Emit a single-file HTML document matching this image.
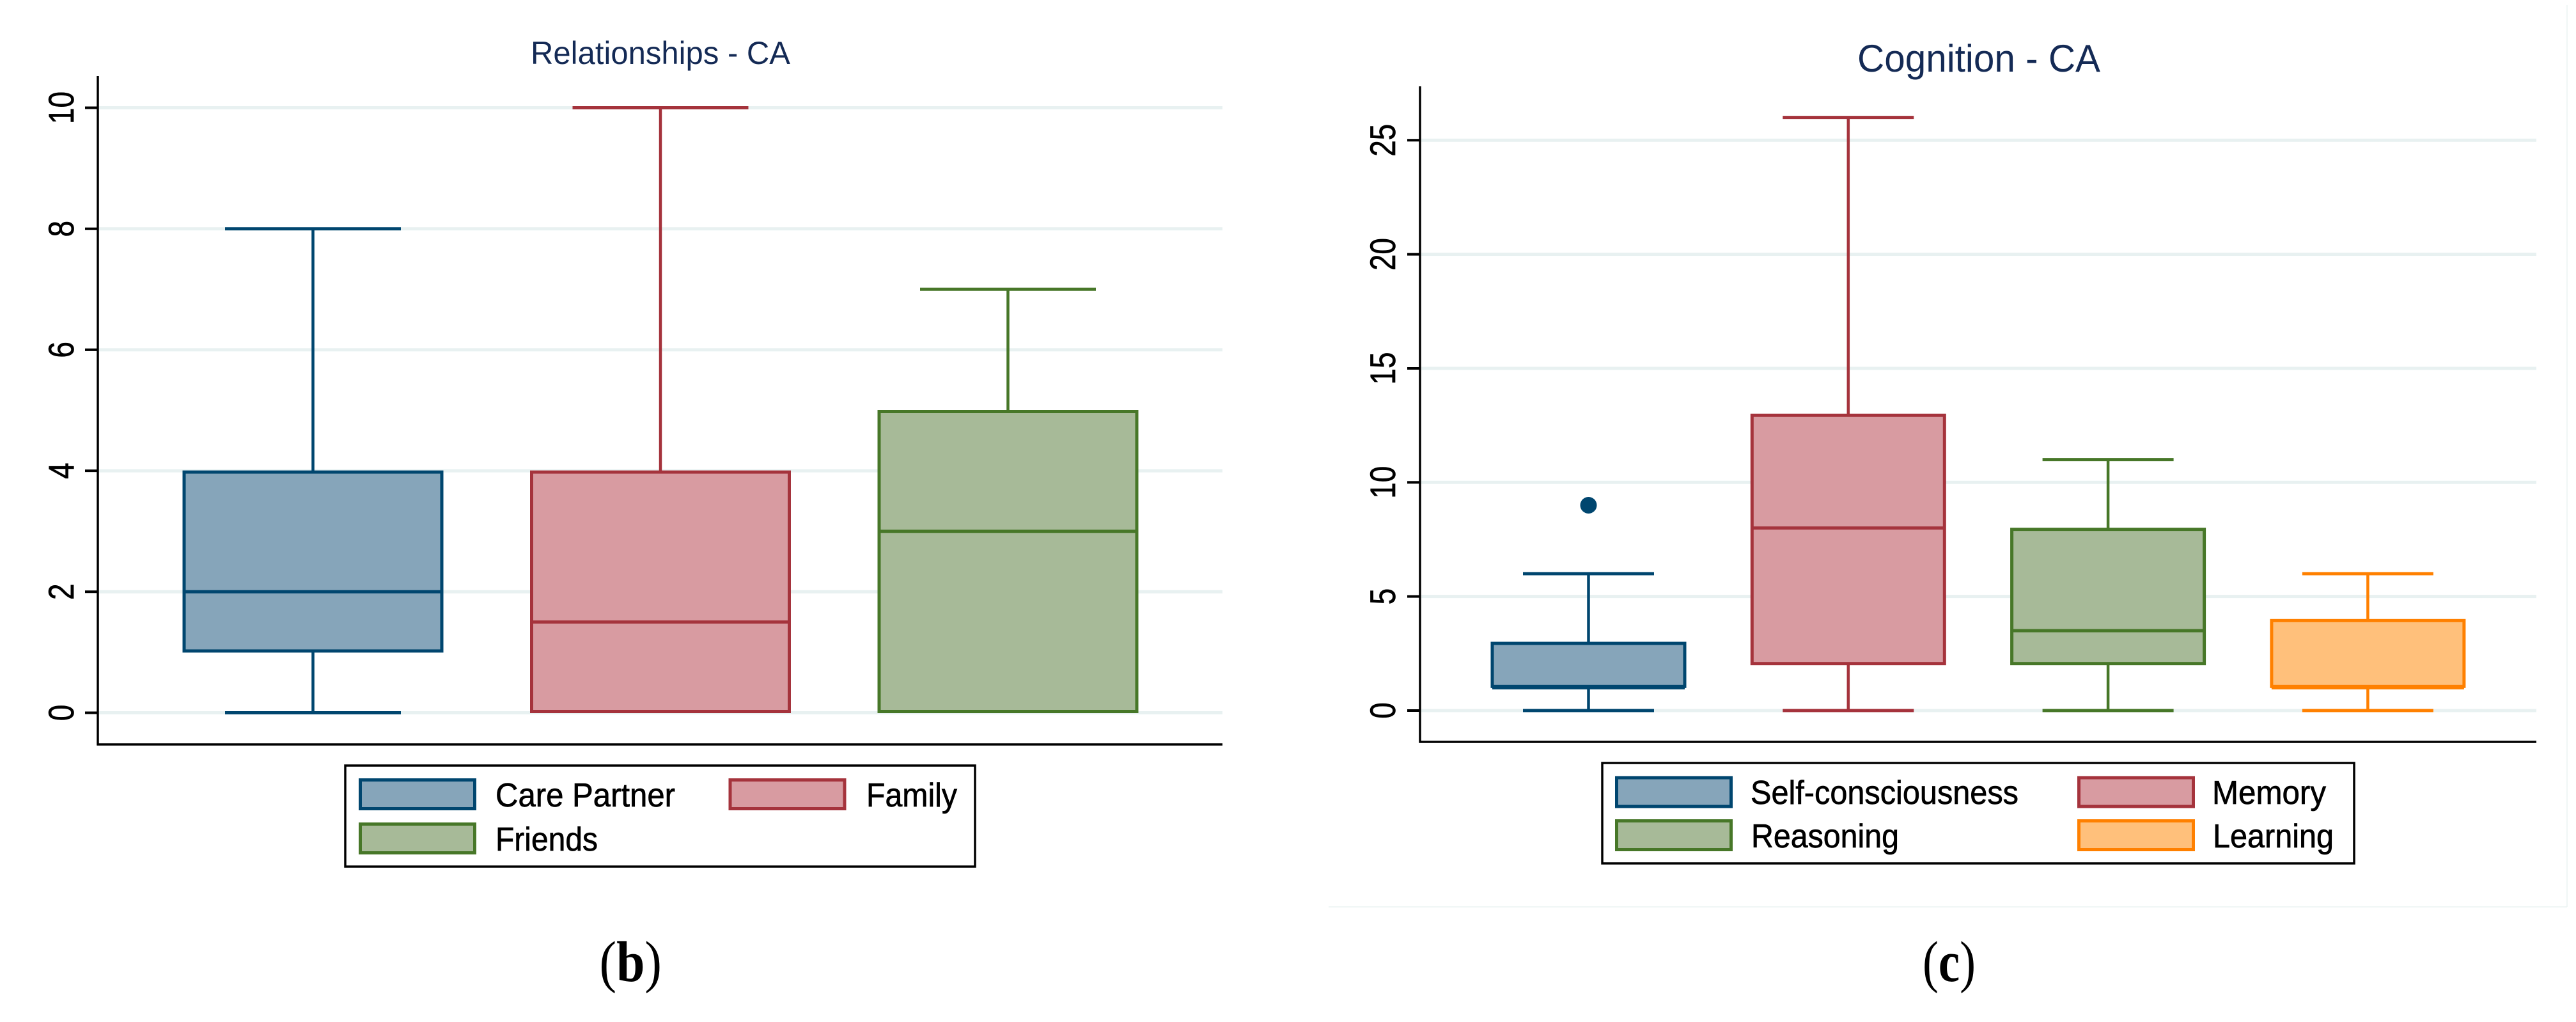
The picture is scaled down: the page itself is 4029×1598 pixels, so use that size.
<!DOCTYPE html>
<html lang="en">
<head>
<meta charset="utf-8">
<title>Relationships and Cognition box plots</title>
<style>
html,body{margin:0;padding:0;background:#fff;width:4029px;height:1598px;overflow:hidden}
svg{display:block}
text{font-family:"Liberation Sans",sans-serif}
.lab{stroke:#000;stroke-width:0.7px}
.cap{font-family:"Liberation Serif",serif;fill:#000}
</style>
</head>
<body>
<svg id="figure" xmlns="http://www.w3.org/2000/svg" width="4029" height="1598" viewBox="0 0 4029 1598">
  <rect x="0" y="0" width="4029" height="1598" fill="#ffffff"/>
  <line x1="2078" y1="1418" x2="4015" y2="1418" stroke="#ebf3f2" stroke-width="1.5"/>
  <line x1="4015" y1="8" x2="4015" y2="1418" stroke="#ebf3f2" stroke-width="1.5"/>

  <g id="left-chart"></g>
  <g id="right-chart"></g>

  <text x="830" y="100" font-size="50" fill="#142a55" textLength="406" lengthAdjust="spacingAndGlyphs">Relationships - CA</text>
  <text x="2905" y="112" font-size="60" fill="#142a55" textLength="380" lengthAdjust="spacingAndGlyphs">Cognition - CA</text>

  <g>
    <rect x="540" y="1197" width="985" height="158" fill="#fff" stroke="#000" stroke-width="3.5"/>
    <rect x="563.5" y="1219.5" width="179" height="45" fill="#86a5ba" stroke="#00466f" stroke-width="5"/>
    <text class="lab" x="775" y="1261" font-size="52" fill="#000" textLength="281" lengthAdjust="spacingAndGlyphs">Care Partner</text>
    <rect x="1142" y="1219.5" width="179" height="45" fill="#d89ba1" stroke="#a5333c" stroke-width="5"/>
    <text class="lab" x="1355" y="1261" font-size="52" fill="#000" textLength="142" lengthAdjust="spacingAndGlyphs">Family</text>
    <rect x="563.5" y="1288.5" width="179" height="45" fill="#a7ba98" stroke="#477728" stroke-width="5"/>
    <text class="lab" x="775" y="1330" font-size="52" fill="#000" textLength="160" lengthAdjust="spacingAndGlyphs">Friends</text>
  </g>

  <g>
    <rect x="2506" y="1193" width="1176" height="157" fill="#fff" stroke="#000" stroke-width="3.5"/>
    <rect x="2528.5" y="1216" width="179" height="45" fill="#86a5ba" stroke="#00466f" stroke-width="5"/>
    <text class="lab" x="2738" y="1257" font-size="52" fill="#000" textLength="419" lengthAdjust="spacingAndGlyphs">Self-consciousness</text>
    <rect x="3251.5" y="1216" width="179" height="45" fill="#d89ba1" stroke="#a5333c" stroke-width="5"/>
    <text class="lab" x="3460" y="1257" font-size="52" fill="#000" textLength="178" lengthAdjust="spacingAndGlyphs">Memory</text>
    <rect x="2528.5" y="1283.5" width="179" height="45" fill="#a7ba98" stroke="#477728" stroke-width="5"/>
    <text class="lab" x="2739" y="1325" font-size="52" fill="#000" textLength="231" lengthAdjust="spacingAndGlyphs">Reasoning</text>
    <rect x="3251.5" y="1283.5" width="179" height="45" fill="#ffc07b" stroke="#ff8000" stroke-width="5"/>
    <text class="lab" x="3461" y="1325" font-size="52" fill="#000" textLength="189" lengthAdjust="spacingAndGlyphs">Learning</text>
  </g>

  <text class="cap" x="937.5" y="1534" font-size="90" textLength="97.5" lengthAdjust="spacingAndGlyphs">(<tspan font-weight="bold">b</tspan>)</text>
  <text class="cap" x="3007" y="1534" font-size="90" textLength="83" lengthAdjust="spacingAndGlyphs">(<tspan font-weight="bold">c</tspan>)</text>
</svg>

<script>
// Relationships - CA
const leftCategories = ['care-partner', 'family', 'friends'];
const leftMin = [0, 0, 0];
const leftQ1 = [1, 0, 0];
const leftMedian = [2, 1.5, 3];
const leftQ3 = [4, 4, 5];
const leftMax = [8, 10, 7];
const leftOutliers = [[], [], []];
const leftTicks = [0, 2, 4, 6, 8, 10];

// Cognition - CA
const rightCategories = ['self-consciousness', 'memory', 'reasoning', 'learning'];
const rightMin = [0, 0, 0, 0];
const rightQ1 = [1, 2, 2, 1];
const rightMedian = [1, 8, 3.5, 1];
const rightQ3 = [3, 13, 8, 4];
const rightMax = [6, 26, 11, 6];
const rightOutliers = [[9], [], [], []];
const rightTicks = [0, 5, 10, 15, 20, 25];

const strokeColors = ['#00466f', '#a5333c', '#477728', '#ff8000'];
const fillColors = ['#86a5ba', '#d89ba1', '#a7ba98', '#ffc07b'];

const SVG_NS = 'http://www.w3.org/2000/svg';

function svgEl(tag, attrs, parent) {
  const el = document.createElementNS(SVG_NS, tag);
  for (const k in attrs) el.setAttribute(k, attrs[k]);
  parent.appendChild(el);
  return el;
}

function drawChart(cfg) {
  const g = cfg.root;

  cfg.ticks.forEach(function (t) {
    const y = cfg.yScale(t);
    const grid = svgEl('line', {x1: cfg.axisX + 2, x2: cfg.axisRight, y1: y, y2: y, stroke: '#e8f1f1', 'stroke-width': 5}, g);
    
    
  });

  const yAxis = svgEl('line', {x1: cfg.axisX, x2: cfg.axisX, y1: cfg.axisTop, y2: cfg.axisBottom + 1.5, stroke: '#000', 'stroke-width': 3.5}, g);
  
  
  const xAxis = svgEl('line', {x1: cfg.axisX - 1.5, x2: cfg.axisRight, y1: cfg.axisBottom, y2: cfg.axisBottom, stroke: '#000', 'stroke-width': 3.5}, g);
  
  

  cfg.ticks.forEach(function (t) {
    const y = cfg.yScale(t);
    const tick = svgEl('line', {x1: cfg.axisX - 20, x2: cfg.axisX, y1: y, y2: y, stroke: '#000', 'stroke-width': 4}, g);
    
    
    const label = String(t);
    const lab = svgEl('text', {
      transform: 'translate(' + cfg.labelX + ',' + y + ') rotate(-90)',
      'text-anchor': 'middle',
      'font-size': 56,
      fill: '#000',
      stroke: '#000',
      'stroke-width': 0.7,
      textLength: label.length * 25.5,
      lengthAdjust: 'spacingAndGlyphs'
    }, g);
    
    
    lab.textContent = label;
  });

  cfg.categories.forEach(function (name, i) {
    const cx = cfg.xScale(i);
    const color = strokeColors[i];
    const fill = fillColors[i];

    const stemHigh = svgEl('line', {x1: cx, x2: cx, y1: cfg.yScale(cfg.max[i]), y2: cfg.yScale(cfg.q3[i]), stroke: color, 'stroke-width': 4.5}, g);
    
    

    const capHigh = svgEl('line', {x1: cx - cfg.capHalf, x2: cx + cfg.capHalf, y1: cfg.yScale(cfg.max[i]), y2: cfg.yScale(cfg.max[i]), stroke: color, 'stroke-width': 5}, g);
    
    

    // The lower whisker collapses into the box edge when it equals the first quartile.
    if (cfg.min[i] < cfg.q1[i]) {
      const stemLow = svgEl('line', {x1: cx, x2: cx, y1: cfg.yScale(cfg.q1[i]), y2: cfg.yScale(cfg.min[i]), stroke: color, 'stroke-width': 4.5}, g);
      
      

      const capLow = svgEl('line', {x1: cx - cfg.capHalf, x2: cx + cfg.capHalf, y1: cfg.yScale(cfg.min[i]), y2: cfg.yScale(cfg.min[i]), stroke: color, 'stroke-width': 5}, g);
      
      
    }

    const top = cfg.yScale(cfg.q3[i]) + 2;
    const bottom = cfg.yScale(cfg.q1[i]) - 2;
    const box = svgEl('rect', {x: cx - cfg.boxHalf, y: top, width: cfg.boxHalf * 2, height: bottom - top, fill: fill, stroke: color, 'stroke-width': 5}, g);
    
    

    const my = cfg.yScale(cfg.median[i]);
    const med = svgEl('line', {x1: cx - cfg.boxHalf, x2: cx + cfg.boxHalf, y1: my, y2: my, stroke: color, 'stroke-width': 5}, g);
    
    

    cfg.outliers[i].forEach(function (v) {
      const pt = svgEl('circle', {cx: cx, cy: cfg.yScale(v), r: 13, fill: color}, g);
      
      
    });
  });
}

drawChart({
  root: document.getElementById('left-chart'),
  categories: leftCategories,
  min: leftMin, q1: leftQ1, median: leftMedian, q3: leftQ3, max: leftMax,
  outliers: leftOutliers,
  ticks: leftTicks,
  yScale: function (v) { return 1114.5 - 94.6 * v; },
  xScale: function (i) { return 489.5 + 543.5 * i; },
  axisX: 153, axisTop: 119, axisBottom: 1164, axisRight: 1912,
  labelX: 115,
  boxHalf: 201.5, capHalf: 137.5
});

drawChart({
  root: document.getElementById('right-chart'),
  categories: rightCategories,
  min: rightMin, q1: rightQ1, median: rightMedian, q3: rightQ3, max: rightMax,
  outliers: rightOutliers,
  ticks: rightTicks,
  yScale: function (v) { return 1111 - 35.67 * v; },
  xScale: function (i) { return 2484.5 + 406.3 * i; },
  axisX: 2221, axisTop: 135, axisBottom: 1160, axisRight: 3967,
  labelX: 2182,
  boxHalf: 150.5, capHalf: 102.5
});
</script>
</body>
</html>
